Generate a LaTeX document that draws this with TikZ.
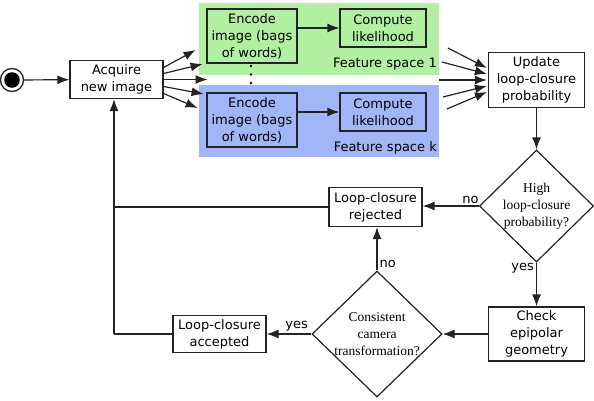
\documentclass[tikz,border=0pt]{standalone}
\usepackage{fontspec}
\usepackage{tikz}
\usetikzlibrary{shapes.geometric, arrows.meta, calc}
\newfontfamily\boxfont{DejaVu Sans}
\newfontfamily\askfont{Liberation Serif}
\definecolor{spacegreen}{RGB}{176,240,160}
\definecolor{spaceblue}{RGB}{160,182,246}
\definecolor{linegray}{RGB}{35,35,35}

\begin{document}
\begin{tikzpicture}[x=1pt, y=1pt,
        box/.style={draw=linegray, line width=1.2pt, align=center, inner sep=1pt,
            font=\boxfont\fontsize{13}{17}\selectfont},
        decision/.style={draw=linegray, line width=1.2pt, diamond, aspect=1,
            align=center, inner sep=-5pt, font=\askfont\fontsize{13.5}{17}\selectfont},
        arr/.style={-{Latex[length=12pt,width=9pt]}, line width=1.2pt, draw=linegray},
        lbl/.style={font=\boxfont\fontsize{13}{15}\selectfont, inner sep=2pt}]
        \useasboundingbox (0,0) rectangle (594,400);

        % feature spaces
        \fill[spacegreen] (199,325) rectangle (439,397);
        \fill[spaceblue] (199,243) rectangle (439,315);

        \node[circle, draw=linegray, line width=1.3pt, minimum size=23pt, inner sep=0pt] (start) at (12,320) {};
        \fill (start.center) circle (7.8);

        \node[box, minimum width=93pt, minimum height=38pt] (acq) at (116.5,320.5) {Acquire\\new image};

        \node[box, minimum width=90pt, minimum height=54pt] (enc1) at (252,364) {Encode\\image (bags\\of words)};
        \node[box, minimum width=86pt, minimum height=38pt] (lik1) at (383,372) {Compute\\likelihood};
        \node[lbl, anchor=east] (fs1) at (439,336) {Feature space 1};

        \node[box, minimum width=90pt, minimum height=54pt] (enc2) at (252,280) {Encode\\image (bags\\of words)};
        \node[box, minimum width=86pt, minimum height=38pt] (lik2) at (383,288) {Compute\\likelihood};
        \node[lbl, anchor=east] (fsk) at (439,252) {Feature space k};

        \foreach \y in {334,325.5,317}
            \fill (251,\y) circle (1.3);

        \node[box, minimum width=96pt, minimum height=55pt] (upd) at (536.5,320) {Update\\loop-closure\\probability};
        \node[decision, minimum width=114pt, minimum height=112pt] (high) at (536.5,194) {High\\loop-closure\\probability?};
        \node[box, minimum width=93pt, minimum height=39pt] (rej) at (375.5,193) {Loop-closure\\rejected};
        \node[box, minimum width=96pt, minimum height=54pt] (chk) at (536.5,66) {Check\\epipolar\\geometry};
        \node[decision, minimum width=130pt, minimum height=126pt] (cons) at (377,66) {Consistent\\camera\\transformation?};
        \node[box, minimum width=93pt, minimum height=37pt] (acc) at (219.5,66) {Loop-closure\\accepted};

        \draw[arr] (start) -- (acq);
        \foreach \a/\dx/\dy in {12/32/29.5, 6/39/15.5, 0/44/0, -7/40/-14.5, -14/34/-28.5}
            \draw[arr] ($(acq.east)+(0,\a)$) -- ($(acq.east)+(\dx,\dy)$);
        \draw[arr] (enc1.east |- lik1) -- (lik1);
        \draw[arr] (enc2.east |- lik2) -- (lik2);
        \foreach \dx/\dy/\b in {-40/32/12, -46/18/6, -49/0/0, -45/-17/-6, -41/-29/-12}
            \draw[arr] ($(upd.west)+(\dx,\dy)$) -- ($(upd.west)+(-1,\b)$);

        \draw[arr] (upd.south) -- (high.north);
        \draw[arr] (high.west) -- (high.west -| rej.east) node[lbl, pos=0.15, above] {no};
        \draw[arr] (high.south) -- (chk.north) node[lbl, pos=0.12, left] {yes};
        \draw[arr] (chk.west) -- (cons.east);
        \draw[arr] (cons.north) -- (cons.north |- rej.south) node[lbl, pos=0.15, right] {no};
        \draw[arr] (cons.west) -- (acc.east) node[lbl, pos=0.33, above] {yes};

        % back to the start
        \coordinate (back) at (114,66);
        \draw[line width=1.2pt, linegray] (acc.west) -- (back);
        \draw[arr] (back) -- (back |- acq.south);
        \draw[line width=1.2pt, linegray] (rej.west) -- (rej.west -| back);
    \end{tikzpicture}
\end{document}
